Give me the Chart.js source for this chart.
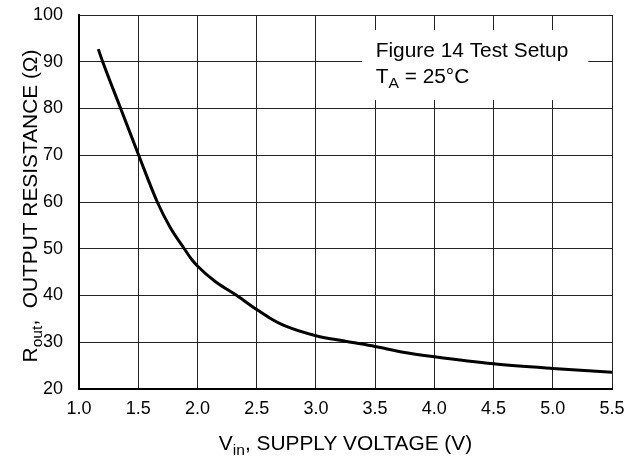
<!DOCTYPE html>
<html>
<head>
<meta charset="utf-8">
<script src="https://cdn.jsdelivr.net/npm/chart.js@4"></script>
<style>
  html, body { margin: 0; padding: 0; background: #fff; }
  #wrap { width: 629px; height: 459px; }
</style>
</head>
<body>
<div id="wrap"><canvas id="chart" width="629" height="459"></canvas></div>
<script>
// Curve (supply voltage V, output resistance ohms)
const vin = [1.163, 1.2, 1.352, 1.504, 1.661, 1.769, 1.889, 1.952, 2.0, 2.15, 2.332, 2.5, 2.61, 2.73, 3.0, 3.25, 3.5, 3.75, 4.0, 4.5, 5.0, 5.5];
const rout = [92.7, 90, 80, 70, 60, 54.6, 50, 47.7, 46.3, 43.0, 40, 37.0, 35.2, 33.6, 31.4, 30.2, 29.1, 27.8, 26.9, 25.4, 24.4, 23.6];

const xTicks = [1.0, 1.5, 2.0, 2.5, 3.0, 3.5, 4.0, 4.5, 5.0, 5.5];
const yTicks = [20, 30, 40, 50, 60, 70, 80, 90, 100];

const FONT = '"Liberation Sans", Arial, sans-serif';

// Draw text with subscript parts: parts = [[text, isSub], ...]
function drawParts(ctx, parts, x, y, size) {
    let cx = x;
    parts.forEach(p => {
        const sub = p[1];
        ctx.font = (sub ? size * 0.75 : size) + 'px ' + FONT;
        ctx.fillText(p[0], cx, sub ? y + size * 0.25 : y);
        cx += ctx.measureText(p[0]).width;
    });
}

function partsWidth(ctx, parts, size) {
    let w = 0;
    parts.forEach(p => {
        ctx.font = (p[1] ? size * 0.75 : size) + 'px ' + FONT;
        w += ctx.measureText(p[0]).width;
    });
    return w;
}

const decorPlugin = {
    id: 'decor',
    beforeDatasetsDraw(chart) {
        const ctx = chart.ctx;
        const xs = chart.scales.x, ys = chart.scales.y;
        // white box behind the note
        ctx.save();
        ctx.fillStyle = '#fff';
        const bx1 = xs.getPixelForValue(3.39), bx2 = xs.getPixelForValue(5.3);
        const by1 = ys.getPixelForValue(96.8), by2 = ys.getPixelForValue(81.8);
        ctx.fillRect(bx1, by1, bx2 - bx1, by2 - by1);
        ctx.fillStyle = '#000';
        ctx.textBaseline = 'alphabetic';
        const tx = xs.getPixelForValue(3.505);
        ctx.translate(tx, 0);
        ctx.scale(1.07, 1);
        ctx.font = '19.5px ' + FONT;
        ctx.fillText('Figure 14 Test Setup', 0, ys.getPixelForValue(90.95));
        drawParts(ctx, [['T', false], ['A', true], [' = 25°C', false]], 0, ys.getPixelForValue(85.4), 19.5);
        ctx.restore();
    },
    afterDraw(chart) {
        const ctx = chart.ctx;
        const a = chart.chartArea;
        ctx.save();
        ctx.fillStyle = '#000';
        ctx.textBaseline = 'alphabetic';
        // x axis title
        const xp = [['V', false], ['in', true], [', SUPPLY VOLTAGE (V)', false]];
        const xw = partsWidth(ctx, xp, 19.5);
        ctx.save();
        ctx.translate((a.left + a.right) / 2, 450);
        ctx.scale(1.07, 1);
        drawParts(ctx, xp, -xw / 2, 0, 19.5);
        ctx.restore();
        // y axis title
        const yp = [['R', false], ['out', true], [',  OUTPUT RESISTANCE (Ω)', false]];
        const yw = partsWidth(ctx, yp, 19.5);
        ctx.translate(37, 206);
        ctx.rotate(-Math.PI / 2);
        ctx.scale(1.07, 1);
        drawParts(ctx, yp, -yw / 2, 0, 19.5);
        ctx.restore();
    }
};

new Chart(document.getElementById('chart'), {
    type: 'scatter',
    data: {
        datasets: [{
            data: vin.map((v, i) => ({ x: v, y: rout[i] })),
            showLine: true,
            borderColor: '#000',
            borderWidth: 3,
            pointRadius: 0,
            cubicInterpolationMode: 'monotone'
        }]
    },
    options: {
        responsive: false,
        animation: false,
        layout: { padding: { top: 15, right: 17, left: 0, bottom: 0 } },
        plugins: {
            legend: { display: false },
            tooltip: { enabled: false }
        },
        scales: {
            x: {
                type: 'linear',
                min: 1, max: 5.5,
                afterBuildTicks: s => { s.ticks = xTicks.map(v => ({ value: v })); },
                afterFit: s => { s.height = 70; s.paddingLeft = 0; s.paddingRight = 0; },
                ticks: {
                    color: '#000',
                    font: { family: FONT, size: 18 },
                    padding: 9,
                    maxRotation: 0,
                    callback: v => Number(v).toFixed(1)
                },
                grid: { color: '#222', lineWidth: 1, drawTicks: false },
                border: { color: '#000', width: 2 }
            },
            y: {
                min: 20, max: 100,
                afterBuildTicks: s => { s.ticks = yTicks.map(v => ({ value: v })); },
                afterFit: s => { s.width = 79; s.paddingTop = 0; s.paddingBottom = 0; },
                ticks: {
                    color: '#000',
                    font: { family: FONT, size: 18 },
                    padding: 16
                },
                grid: { color: '#222', lineWidth: 1, drawTicks: false },
                border: { color: '#000', width: 2 }
            }
        }
    },
    plugins: [decorPlugin]
});
</script>
</body>
</html>
